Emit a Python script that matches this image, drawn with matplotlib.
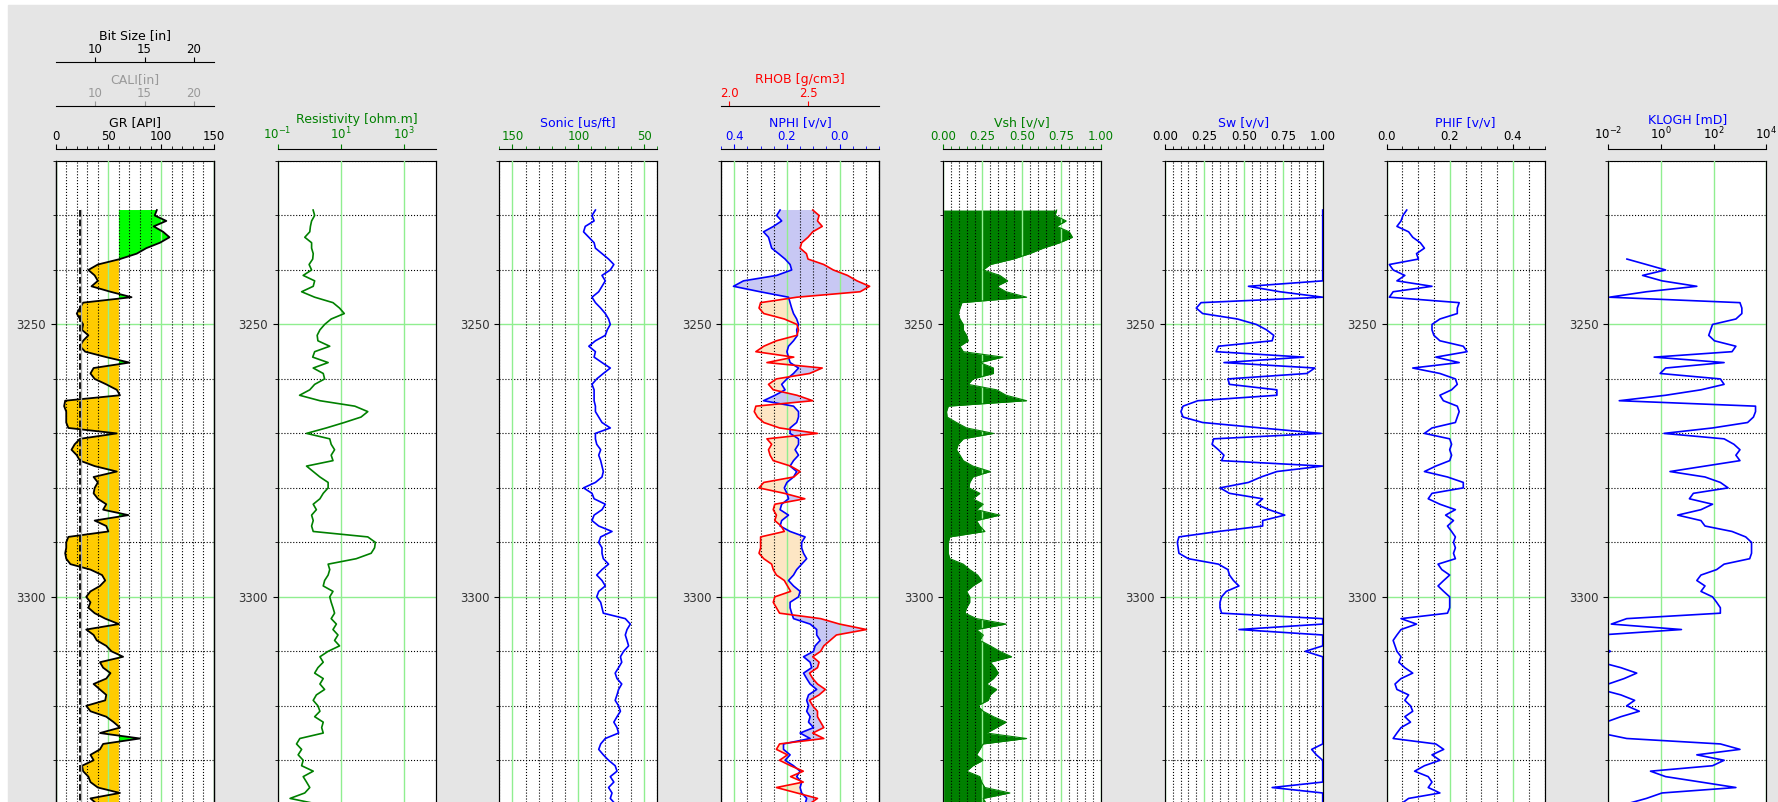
import numpy as np
import matplotlib.pyplot as plt
from matplotlib.ticker import MultipleLocator, NullLocator, FixedLocator
from matplotlib.patches import Rectangle

# log samples, 1 m spacing
depth = np.arange(3229, 3339)

gr = [96, 94, 105, 93, 102, 108, 99, 86, 77, 61,
      40, 31, 37, 40, 34, 52, 72, 26, 23, 20,
      23, 26, 25, 31, 26, 23, 28, 48, 70, 36,
      33, 37, 48, 58, 61, 9, 8, 10, 10, 10,
      12, 58, 23, 18, 15, 20, 23, 37, 58, 36,
      40, 37, 36, 40, 48, 45, 69, 37, 48, 50,
      12, 10, 10, 9, 10, 14, 33, 44, 47, 42,
      33, 29, 33, 31, 37, 47, 60, 29, 36, 39,
      48, 53, 64, 42, 45, 52, 48, 36, 42, 48,
      47, 29, 33, 48, 55, 61, 42, 80, 45, 42,
      33, 36, 25, 26, 31, 33, 40, 61, 33, 39]

res = [1.34, 1.5, 1.2, 1.1, 1.05, 0.73, 1.2, 1.2, 1.35, 1.3,
       1.0, 1.2, 0.65, 1.5, 1.35, 0.58, 1.5, 5.7, 9.2, 13,
       5.0, 3.1, 2.2, 1.8, 1.9, 4.5, 1.5, 1.3, 4.0, 1.35,
       2.8, 3.1, 1.5, 1.05, 0.5, 2.2, 28, 72, 44, 13,
       3.5, 0.83, 4.5, 5.0, 6.4, 5.0, 5.7, 0.83, 1.35, 2.2,
       4.0, 4.0, 2.8, 2.2, 1.35, 1.7, 1.2, 1.35, 1.2, 1.35,
       72, 125, 118, 92, 31, 4.0, 4.5, 4.0, 3.1, 2.8,
       5.7, 4.5, 5.0, 5.7, 6.4, 5.0, 7.3, 5.7, 8.2, 6.4,
       9.2, 4.0, 2.2, 2.8, 1.9, 1.5, 2.8, 2.2, 3.1, 1.7,
       1.35, 1.9, 2.2, 1.5, 2.8, 2.5, 2.8, 0.51, 0.4, 0.58,
       0.45, 0.65, 0.58, 1.35, 0.65, 0.83, 1.05, 0.73, 0.25, 1.7]

dt = [87, 89.6, 88, 94.7, 96, 92, 88, 87, 82, 77,
      73, 75.7, 82, 79.5, 82, 84.5, 89.6, 87, 83, 79.5,
      77, 75.7, 78, 79.5, 87, 92, 87, 88, 82, 75.7,
      81, 86, 89.6, 88, 88, 88, 87, 87, 84.5, 82,
      75.7, 87, 87, 86, 83, 84.5, 83, 82, 81, 82,
      87, 96, 89.6, 88, 79.5, 82, 88, 89.6, 84.5, 74.4,
      83, 84.5, 82, 82, 81, 77, 82, 86, 82, 79.5,
      84.5, 86, 83, 82, 81, 64.3, 60.5, 63, 64.3, 63,
      61.8, 65.6, 68, 67, 69.4, 72, 70.6, 67, 69.4, 70.6,
      72, 69.4, 68, 70.6, 73, 70.6, 69.4, 79.5, 83, 84.5,
      81, 77, 72, 70.6, 75.7, 73, 77, 74.4, 75.7, 72]

nphi = [0.226, 0.239, 0.22, 0.251, 0.289, 0.27, 0.264, 0.258, 0.232, 0.207,
        0.188, 0.182, 0.239, 0.365, 0.403, 0.302, 0.194, 0.188, 0.182, 0.175,
        0.163, 0.156, 0.163, 0.16, 0.175, 0.194, 0.2, 0.194, 0.188, 0.156,
        0.175, 0.2, 0.22, 0.207, 0.245, 0.289, 0.175, 0.156, 0.156, 0.163,
        0.188, 0.188, 0.156, 0.156, 0.169, 0.156, 0.175, 0.188, 0.163, 0.175,
        0.2, 0.21, 0.2, 0.194, 0.22, 0.226, 0.194, 0.22, 0.226, 0.188,
        0.131, 0.144, 0.144, 0.137, 0.125, 0.144, 0.163, 0.175, 0.194, 0.175,
        0.15, 0.156, 0.188, 0.188, 0.182, 0.175, 0.112, 0.087, 0.087, 0.074,
        0.093, 0.099, 0.137, 0.112, 0.106, 0.137, 0.125, 0.112, 0.087, 0.118,
        0.125, 0.118, 0.125, 0.112, 0.118, 0.099, 0.15, 0.112, 0.213, 0.213,
        0.188, 0.207, 0.175, 0.15, 0.163, 0.144, 0.15, 0.144, 0.125, 0.131]

rhob = [2.53, 2.57, 2.56, 2.59, 2.53, 2.50, 2.46, 2.45, 2.49, 2.50,
        2.60, 2.66, 2.75, 2.81, 2.89, 2.83, 2.43, 2.20, 2.19, 2.22,
        2.35, 2.43, 2.44, 2.43, 2.30, 2.22, 2.17, 2.41, 2.24, 2.59,
        2.51, 2.30, 2.25, 2.28, 2.43, 2.53, 2.17, 2.16, 2.18, 2.22,
        2.32, 2.56, 2.24, 2.27, 2.25, 2.26, 2.28, 2.39, 2.45, 2.41,
        2.22, 2.19, 2.35, 2.48, 2.29, 2.28, 2.30, 2.29, 2.33, 2.35,
        2.20, 2.20, 2.20, 2.19, 2.22, 2.27, 2.28, 2.30, 2.35, 2.37,
        2.39, 2.29, 2.28, 2.30, 2.32, 2.58, 2.70, 2.87, 2.68, 2.64,
        2.60, 2.58, 2.53, 2.57, 2.56, 2.51, 2.53, 2.56, 2.61, 2.57,
        2.51, 2.53, 2.56, 2.56, 2.58, 2.60, 2.53, 2.60, 2.32, 2.30,
        2.37, 2.32, 2.39, 2.47, 2.39, 2.47, 2.30, 2.43, 2.56, 2.51]

vsh = [0.72, 0.71, 0.78, 0.72, 0.80, 0.82, 0.74, 0.635, 0.55, 0.445,
       0.30, 0.255, 0.36, 0.41, 0.34, 0.40, 0.53, 0.12, 0.108, 0.097,
       0.108, 0.129, 0.129, 0.15, 0.16, 0.108, 0.129, 0.38, 0.234, 0.32,
       0.32, 0.19, 0.16, 0.34, 0.40, 0.53, 0.034, 0.023, 0.027, 0.086,
       0.15, 0.32, 0.129, 0.097, 0.086, 0.108, 0.129, 0.19, 0.30, 0.19,
       0.17, 0.165, 0.234, 0.19, 0.255, 0.213, 0.36, 0.213, 0.234, 0.266,
       0.044, 0.034, 0.034, 0.034, 0.044, 0.129, 0.17, 0.22, 0.245, 0.19,
       0.15, 0.17, 0.17, 0.15, 0.14, 0.213, 0.40, 0.213, 0.255, 0.234,
       0.30, 0.36, 0.435, 0.30, 0.33, 0.35, 0.32, 0.276, 0.34, 0.30,
       0.287, 0.22, 0.255, 0.32, 0.40, 0.34, 0.276, 0.53, 0.255, 0.234,
       0.213, 0.255, 0.19, 0.15, 0.234, 0.245, 0.266, 0.424, 0.255, 0.276]

sw = [1, 1, 1, 1, 1, 1, 1, 1, 1, 1,
      1, 1, 1, 1, 0.53, 0.73, 1.0, 0.23, 0.2, 0.24,
      0.46, 0.58, 0.645, 0.69, 0.68, 0.34, 0.325, 0.88, 0.375, 0.95,
      0.90, 0.40, 0.41, 0.71, 0.71, 0.21, 0.116, 0.103, 0.116, 0.24,
      0.61, 0.99, 0.31, 0.30, 0.34, 0.375, 0.36, 1.0, 0.71, 0.61,
      0.53, 0.35, 0.41, 0.62, 0.58, 0.66, 0.76, 0.62, 0.62, 0.34,
      0.09, 0.08, 0.085, 0.09, 0.15, 0.34, 0.40, 0.41, 0.435, 0.47,
      0.39, 0.36, 0.35, 0.35, 0.36, 1.0, 1.0, 0.47, 1.0, 1.0,
      1.0, 0.89, 1, 1, 1, 1, 1, 1, 1, 1,
      1, 1, 1, 1, 1, 1, 1, 1, 1, 0.93,
      0.96, 1, 1, 1, 1, 1, 0.68, 1, 1, 1]

phif = [0.064, 0.052, 0.046, 0.033, 0.07, 0.083, 0.107, 0.12, 0.095, 0.101,
        0.009, 0.021, 0.058, 0.033, 0.144, 0.021, 0.009, 0.23, 0.224, 0.224,
        0.169, 0.144, 0.144, 0.15, 0.169, 0.243, 0.255, 0.156, 0.23, 0.083,
        0.169, 0.218, 0.224, 0.206, 0.169, 0.18, 0.224, 0.23, 0.224, 0.218,
        0.144, 0.12, 0.2, 0.206, 0.2, 0.206, 0.2, 0.156, 0.12, 0.193,
        0.243, 0.243, 0.144, 0.132, 0.169, 0.218, 0.187, 0.212, 0.193, 0.206,
        0.218, 0.212, 0.218, 0.212, 0.218, 0.163, 0.175, 0.2, 0.181, 0.163,
        0.181, 0.2, 0.2, 0.2, 0.193, 0.046, 0.095, 0.046, 0.033, 0.021,
        0.027, 0.033, 0.046, 0.039, 0.058, 0.083, 0.046, 0.027, 0.033, 0.07,
        0.058, 0.076, 0.083, 0.058, 0.076, 0.046, 0.033, 0.021, 0.156, 0.181,
        0.144, 0.169, 0.12, 0.089, 0.132, 0.144, 0.132, 0.169, 0.07, 0.046]

nan = np.nan
klogh = [nan, nan, nan, nan, nan, nan, nan, nan, nan, 0.051,
         0.28, 1.5, 0.2, 1.1, 23, 0.28, 0.011, 1000, 1180, 1180,
         700, 91, 77, 65, 107, 700, 500, 0.55, 250, 1.5,
         0.93, 180, 250, 33, 1.5, 0.026, 3900, 3900, 3250, 1950,
         91, 1.3, 250, 590, 1000, 700, 1000, 47, 2.2, 47,
         180, 355, 17, 12, 91, 33, 4.3, 33, 47, 500,
         1650, 2750, 2750, 2750, 2340, 250, 130, 33, 23, 47,
         33, 91, 130, 180, 180, 0.05, 0.013, 6, 0.005, 0.005,
         0.005, 0.012, 0.005, 0.005, 0.03, 0.12, 0.04, 0.01, 0.005, 0.03,
         0.10, 0.05, 0.15, 0.03, 0.008, 0.005, 0.005, 0.05, 180, 1000,
         23, 250, 91, 0.4, 1.5, 33, 700, 1.1, 0.28, 0.05]

bit_depth = [3229, 3400]
bit_size = [8.5, 8.5]
cali = [8.55, 8.55]

gr_cut = 60

gr = np.array(gr)
nphi = np.array(nphi)
rhob = np.array(rhob)

W, H = 1778, 802
TOP = 161          # pixel row of the track tops
PX_M = 5.448       # pixels per metre
D_TOP = 3220
D_BOT = D_TOP + (H - TOP) / PX_M

fig = plt.figure(figsize=(W / 100, H / 100), dpi=100, facecolor='white')
fig.patches.append(Rectangle((8 / W, 0), 1, 1 - 5 / H, transform=fig.transFigure,
                             color='#e5e5e5', zorder=-1))


def track(i):
    ax = fig.add_axes([(55.7 + 221.8 * i) / W, 0, 158 / W, (H - TOP) / H])
    ax.set_ylim(D_BOT, D_TOP)
    ax.yaxis.set_major_locator(MultipleLocator(50))
    ax.yaxis.set_minor_locator(MultipleLocator(10))
    ax.grid(which='major', axis='y', color='lightgreen', lw=1)
    ax.grid(which='minor', axis='y', color='k', ls=':', lw=0.8)
    ax.set_xticks([])
    ax.spines['bottom'].set_visible(False)
    ax.tick_params(axis='y', labelsize=8.5, labelcolor='#333333')
    return ax


def scale(ax, label, lcolor, xlim, offset, major=None, minor=None, log=False,
          tcolor='k', grid=True):
    t = ax.twiny()
    if log:
        t.set_xscale('log')
    t.set_xlim(*xlim)
    if major is not None:
        if log:
            t.xaxis.set_major_locator(FixedLocator(major))
        else:
            t.xaxis.set_major_locator(MultipleLocator(major))
    if minor is not None:
        t.xaxis.set_minor_locator(MultipleLocator(minor))
    else:
        t.xaxis.set_minor_locator(NullLocator())
    t.spines['top'].set_position(('outward', offset * 0.72))
    t.spines['bottom'].set_visible(False)
    t.set_xlabel(label, color=lcolor, fontsize=9, labelpad=2.4)
    t.tick_params(axis='x', which='both', colors=tcolor, labelsize=8.5, pad=1.0)
    if grid:
        t.grid(which='major', axis='x', color='lightgreen', lw=1)
        t.grid(which='minor', axis='x', color='k', ls=':', lw=0.8)
    return t


# track 1: gamma ray with caliper and bit size
ax = track(0)
g = scale(ax, 'GR [API]', 'k', (0, 150), 12, 50, 10)
g.fill_betweenx(depth, gr, gr_cut, where=gr <= gr_cut, color='#ffcc00', interpolate=True, lw=0)
g.fill_betweenx(depth, gr, gr_cut, where=gr >= gr_cut, color='lime', interpolate=True, lw=0)
g.plot(gr, depth, color='k', lw=1.3)
c = scale(ax, 'CALI[in]', '#999999', (6, 22), 55, 5, tcolor='#999999', grid=False)
c.plot(cali, bit_depth, color='#aaaaaa', lw=1)
b = scale(ax, 'Bit Size [in]', 'k', (6, 22), 99, 5, grid=False)
b.plot(bit_size, bit_depth, color='k', ls='--', lw=1.3)

# track 2: resistivity
ax = track(1)
r = scale(ax, 'Resistivity [ohm.m]', 'green', (0.1, 1e4), 12, [0.1, 10, 1000],
          log=True, tcolor='green')
r.plot(res, depth, color='green', lw=1.2)

# track 3: sonic
ax = track(2)
s = scale(ax, 'Sonic [us/ft]', 'blue', (160, 40), 12, 50, 10, tcolor='green')
s.plot(dt, depth, color='blue', lw=1.2)

# track 4: neutron-density
ax = track(3)
n = scale(ax, 'NPHI [v/v]', 'blue', (0.45, -0.15), 12, 0.2, 0.05, tcolor='blue')
rhob_on_nphi = 0.45 - (rhob - 1.95) * 0.6
n.fill_betweenx(depth, nphi, rhob_on_nphi, where=rhob_on_nphi <= nphi,
                color='#c8c8f4', interpolate=True, lw=0)
n.fill_betweenx(depth, nphi, rhob_on_nphi, where=rhob_on_nphi >= nphi,
                color='#fde6c4', interpolate=True, lw=0)
n.plot(nphi, depth, color='blue', lw=1.2)
d = scale(ax, 'RHOB [g/cm3]', 'red', (1.95, 2.95), 55, 0.5, tcolor='red', grid=False)
d.plot(rhob, depth, color='red', lw=1.2)

# track 5: shale volume
ax = track(4)
v = scale(ax, 'Vsh [v/v]', 'green', (0, 1), 12, 0.25, 0.05, tcolor='green')
v.fill_betweenx(depth, 0, vsh, color='green', lw=0)
v.plot(vsh, depth, color='green', lw=0.8)

# track 6: water saturation
ax = track(5)
w = scale(ax, 'Sw [v/v]', 'blue', (0, 1), 12, 0.25, 0.05)
w.plot(sw, depth, color='blue', lw=1.2)

# track 7: porosity
ax = track(6)
p = scale(ax, 'PHIF [v/v]', 'blue', (0, 0.5), 12, 0.2, 0.05)
p.plot(phif, depth, color='blue', lw=1.2)

# track 8: permeability
ax = track(7)
k = scale(ax, 'KLOGH [mD]', 'blue', (0.01, 1e4), 12, [1e-2, 1, 1e2, 1e4], log=True)
k.plot(klogh, depth, color='blue', lw=1.2)

fig.savefig('out.png', dpi=100, facecolor=fig.get_facecolor())
